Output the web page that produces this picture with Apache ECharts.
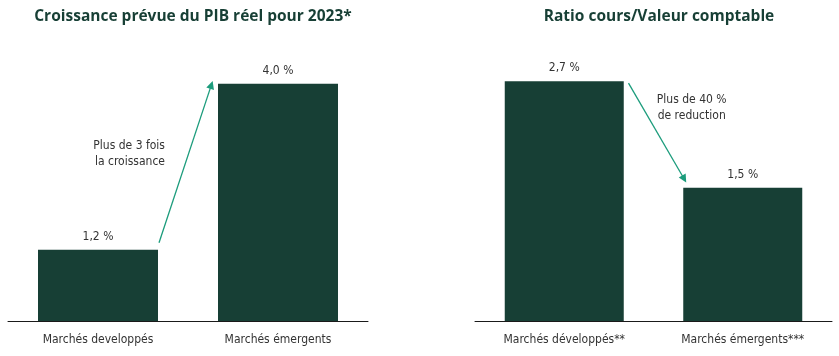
<!DOCTYPE html>
<html><head><meta charset="utf-8">
<script src="https://cdn.jsdelivr.net/npm/echarts@6/dist/echarts.min.js"></script>
<style>html,body{margin:0;padding:0;background:#fff}#c{width:839px;height:356px}</style>
</head><body><div id="c"></div>
<script>
// ---- data ----
const categoriesGDP = ['Marchés developpés', 'Marchés émergents'];
const valuesGDP = [1.2, 4.0];
const categoriesPB = ['Marchés développés**', 'Marchés émergents***'];
const valuesPB = [2.7, 1.5];
const titleGDP = 'Croissance prévue du PIB réel pour 2023*';
const titlePB = 'Ratio cours/Valeur comptable';
const noteGDP = 'Plus de 3 fois\nla croissance';
const notePB = 'Plus de 40 %\nde reduction';

// ---- styling ----
const BAR = '#173F35';
const ARROW = '#1C9C7C';
const FONT = "'Liberation Sans Narrow', 'DejaVu Sans Condensed', sans-serif";
const TFONT = "'Open Sans', 'Noto Sans', sans-serif";
const fmt = v => v.toFixed(1).replace('.', ',') + ' %';

const chart = echarts.init(document.getElementById('c'), null, {renderer: 'canvas'});

const catAxis = (grid, data) => ({
  type: 'category', gridIndex: grid, data: data,
  axisLine: {lineStyle: {color: '#1a1a1a', width: 1}},
  axisTick: {show: false},
  axisLabel: {color: '#333', fontSize: 12, fontFamily: FONT, margin: 13}
});
const hidX = grid => ({type: 'value', gridIndex: grid, min: -0.5, max: 1.5, show: false, splitLine: {show: false}});
const valY = (grid, max) => ({type: 'value', gridIndex: grid, min: 0, max: max, show: false, splitLine: {show: false}});

const barSeries = (xi, yi, data, w) => ({
  type: 'bar', xAxisIndex: xi, yAxisIndex: yi, data: data, barWidth: w,
  itemStyle: {color: BAR},
  label: {show: true, position: 'top', distance: 7, color: '#333', fontSize: 12, fontFamily: FONT, formatter: p => fmt(p.value)},
  silent: true
});
const arrowSeries = (xi, yi, from, to) => ({
  type: 'line', xAxisIndex: xi, yAxisIndex: yi, data: [], silent: true,
  markLine: {
    silent: true, symbol: ['none', 'triangle'], symbolSize: 8,
    lineStyle: {color: ARROW, width: 1.3, type: 'solid'},
    label: {show: false},
    data: [[{coord: from}, {coord: to}]]
  }
});

chart.setOption({
  animation: false,
  title: [
    {text: titleGDP, left: 188, top: 4, textAlign: 'center',
     textStyle: {color: '#173F35', fontSize: 15.5, fontWeight: 'bold', fontFamily: TFONT}},
    {text: titlePB, left: 654, top: 4, textAlign: 'center',
     textStyle: {color: '#173F35', fontSize: 15.5, fontWeight: 'bold', fontFamily: TFONT}}
  ],
  grid: [
    {left: 8, width: 360, top: 60, bottom: 35},
    {left: 475, width: 357, top: 60, bottom: 35}
  ],
  xAxis: [catAxis(0, categoriesGDP), catAxis(1, categoriesPB), hidX(0), hidX(1)],
  yAxis: [valY(0, 4.4), valY(1, 2.94)],
  series: [
    barSeries(0, 0, valuesGDP, 120),
    barSeries(1, 1, valuesPB, 119),
    arrowSeries(2, 0, [0.339, 1.32], [0.63, 3.98]),
    arrowSeries(3, 1, [0.36, 2.68], [0.672, 1.6])
  ]
});

const p1 = chart.convertToPixel({xAxisIndex: 2, yAxisIndex: 0}, [0.372, 2.82]);
const p2 = chart.convertToPixel({xAxisIndex: 3, yAxisIndex: 1}, [0.714, 2.40]);
chart.setOption({
  graphic: [
    {type: 'text', x: p1[0], y: p1[1], style: {text: noteGDP, align: 'right', verticalAlign: 'middle', fill: '#333', font: '12px ' + FONT, lineHeight: 16}},
    {type: 'text', x: p2[0], y: p2[1], style: {text: notePB, align: 'center', verticalAlign: 'middle', fill: '#333', font: '12px ' + FONT, lineHeight: 16}}
  ]
});
</script>
</body></html>
